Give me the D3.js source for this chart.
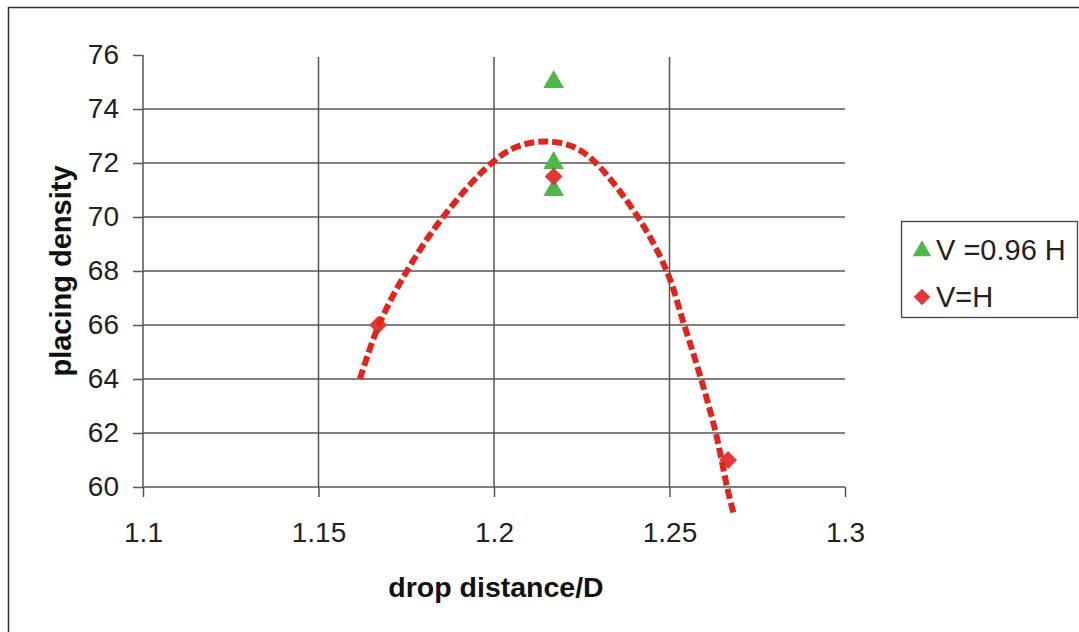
<!DOCTYPE html>
<html><head><meta charset="utf-8">
<script src="https://cdn.jsdelivr.net/npm/d3@7"></script>
<style>body{margin:0;background:#fff;}svg{display:block;}</style>
</head><body>
<svg id="c" width="1079" height="632"></svg>
<script>
// Data
const xTicks = [1.1, 1.15, 1.2, 1.25, 1.3];
const yTicks = [60, 62, 64, 66, 68, 70, 72, 74, 76];
const seriesNames = ["V =0.96 H", "V=H"];
const triX = [1.217, 1.217, 1.217];
const triY = [75, 72, 71];
const diaX = [1.167, 1.217, 1.2667];
const diaY = [66, 71.5, 61];
const trendX = [1.1618, 1.1672, 1.1752, 1.1855, 1.1993, 1.2065, 1.2145, 1.2226, 1.2290, 1.2410, 1.2492, 1.2542, 1.2590, 1.2632, 1.2664, 1.2682];
const trendY = [64.0, 66.0, 68.0, 70.0, 72.0, 72.6, 72.8, 72.6, 72.0, 70.0, 68.0, 66.0, 64.0, 62.0, 60.0, 59.05];

const svg = d3.select("#c");
const W = 1079, H = 632;
const FONT = "'Liberation Sans', Arial, sans-serif";
const x = d3.scaleLinear().domain([1.1, 1.3]).range([143, 845]);
const y = d3.scaleLinear().domain([60, 76]).range([487, 55]);
const gridC = "#555", green = "#4db848", red = "#e0393a", lineRed = "#e0261c";

svg.append("rect").attr("width", W).attr("height", H).attr("fill", "#fff");
// outer border
svg.append("path").attr("d", `M8.5,${H} V7.5 H${W}`).attr("fill", "none").attr("stroke", "#333").attr("stroke-width", 1.5);

// gridlines
svg.append("g").selectAll("line").data(yTicks.filter(v => v > 60 && v < 76)).join("line")
  .attr("x1", x(1.1)).attr("x2", x(1.3)).attr("y1", d => y(d)).attr("y2", d => y(d))
  .attr("stroke", gridC).attr("stroke-width", 1.5);
svg.append("g").selectAll("line").data(xTicks.filter(v => v > 1.1 && v < 1.3)).join("line")
  .attr("x1", d => x(d)).attr("x2", d => x(d)).attr("y1", y(76) + 2).attr("y2", y(60))
  .attr("stroke", gridC).attr("stroke-width", 1.5);

// axes
const xAxis = d3.axisBottom(x).tickValues(xTicks).tickFormat(d3.format("")).tickSize(10).tickPadding(25);
const gx = svg.append("g").attr("transform", `translate(0,${y(60)})`).call(xAxis);
const yAxis = d3.axisLeft(y).tickValues(yTicks).tickFormat(d3.format("d")).tickSize(10).tickPadding(14);
const gy = svg.append("g").attr("transform", `translate(${x(1.1)},0)`).call(yAxis);
[gx, gy].forEach(g => {
  g.select(".domain").attr("stroke", gridC).attr("stroke-width", 1.5);
  g.selectAll(".tick line").attr("stroke", gridC).attr("stroke-width", 1.5);
  g.selectAll("text").attr("fill", "#222").style("font-family", FONT).style("font-size", "28px");
});
gx.select(".domain").attr("d", `M${x(1.1)},0H${x(1.3)}`);
gy.select(".domain").attr("d", `M0,${y(60)}V${y(76)}`);

// axis titles
svg.append("text").attr("x", 496).attr("y", 597).attr("text-anchor", "middle")
  .style("font-family", FONT).style("font-size", "28.5px").style("font-weight", "bold").attr("fill", "#111")
  .text("drop distance/D");
svg.append("text").attr("transform", "translate(71,271) rotate(-90)").attr("text-anchor", "middle")
  .style("font-family", FONT).style("font-size", "29px").style("font-weight", "bold").attr("fill", "#111")
  .text("placing density");

// markers
const tri = d3.symbol().type(d3.symbolTriangle).size(185);
const dia = d3.symbol().type(d3.symbolSquare).size(160);
svg.append("g").selectAll("path").data(triX.map((v, i) => [v, triY[i]])).join("path")
  .attr("d", tri).attr("transform", d => `translate(${x(d[0])},${y(d[1])})`).attr("fill", green);
svg.append("g").selectAll("path").data(diaX.map((v, i) => [v, diaY[i]])).join("path")
  .attr("d", dia).attr("transform", d => `translate(${x(d[0])},${y(d[1])}) rotate(45)`).attr("fill", red);

// trend line
const line = d3.line().x(d => x(d[0])).y(d => y(d[1])).curve(d3.curveCatmullRom.alpha(0.5));
svg.append("path").datum(trendX.map((v, i) => [v, trendY[i]])).attr("d", line)
  .attr("fill", "none").attr("stroke", lineRed).attr("stroke-width", 6).attr("stroke-dasharray", "10,4");

// legend
svg.append("rect").attr("x", 901.5).attr("y", 221.5).attr("width", 176).attr("height", 96)
  .attr("fill", "#fff").attr("stroke", "#444").attr("stroke-width", 1.3);
const lg = svg.append("g");
lg.append("path").attr("d", d3.symbol().type(d3.symbolTriangle).size(150)).attr("transform", "translate(922,251)").attr("fill", green);
lg.append("path").attr("d", d3.symbol().type(d3.symbolSquare).size(140)).attr("transform", "translate(922,297) rotate(45)").attr("fill", red);
lg.selectAll("text").data(seriesNames).join("text")
  .attr("x", 936).attr("y", (d, i) => 260 + i * 47)
  .style("font-family", FONT).style("font-size", "29px").attr("fill", "#222").text(d => d);
</script>
</body></html>
